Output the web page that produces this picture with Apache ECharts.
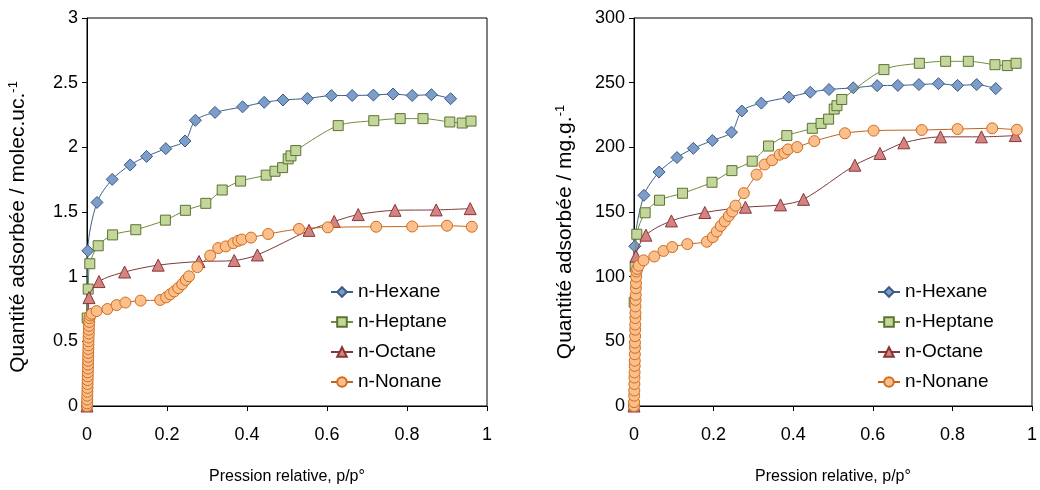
<!DOCTYPE html>
<html>
<head>
<meta charset="utf-8">
<script src="https://cdn.jsdelivr.net/npm/echarts@6/dist/echarts.min.js"></script>
<style>
html,body{margin:0;padding:0;background:#fff;}
#chart{width:1040px;height:490px;}
</style>
</head>
<body>
<div id="chart"></div>
<script>
// ---- data (x = p/p°) ----
const seriesNames = ['n-Hexane', 'n-Heptane', 'n-Octane', 'n-Nonane'];
const xTicks = ['0', '0.2', '0.4', '0.6', '0.8', '1'];

const hexX = [0, 0.002, 0.025, 0.063, 0.108, 0.149, 0.197, 0.245, 0.271, 0.32, 0.389, 0.443, 0.49, 0.551, 0.611, 0.663, 0.716, 0.765, 0.813, 0.861, 0.909];
const hexLeft = [0, 1.20, 1.574, 1.752, 1.864, 1.93, 1.99, 2.049, 2.209, 2.27, 2.313, 2.348, 2.366, 2.378, 2.40, 2.401, 2.404, 2.412, 2.401, 2.407, 2.376];
const hexRight = [0, 123.5, 162.9, 180.9, 192.1, 199.2, 205.3, 211.7, 228.1, 234.2, 238.8, 242.6, 244.7, 246, 247.7, 247.9, 248.5, 249.2, 247.9, 248.5, 245.4];

const hepX = [0, 0.0005, 0.003, 0.007, 0.028, 0.064, 0.122, 0.196, 0.246, 0.297, 0.338, 0.384, 0.448, 0.47, 0.489, 0.503, 0.51, 0.522, 0.628, 0.717, 0.783, 0.84, 0.907, 0.938, 0.96];
const hepLeft = [0, 0.68, 0.904, 1.10, 1.239, 1.323, 1.363, 1.437, 1.513, 1.567, 1.67, 1.739, 1.785, 1.815, 1.843, 1.911, 1.934, 1.975, 2.168, 2.206, 2.222, 2.222, 2.196, 2.188, 2.203];
const hepRight = [0, 80.3, 107.7, 132.8, 149.4, 159.1, 164.5, 173, 182, 189.3, 201, 209.1, 214.7, 218.5, 221.8, 229.6, 232.2, 237, 260.1, 265, 266.5, 266.5, 263.9, 263.2, 265];

const octX = [0, 0.005, 0.03, 0.094, 0.178, 0.28, 0.368, 0.426, 0.555, 0.618, 0.678, 0.77, 0.873, 0.958];
const octLeft = [0, 0.838, 0.962, 1.036, 1.089, 1.117, 1.125, 1.168, 1.358, 1.427, 1.48, 1.513, 1.516, 1.526];
const octRight = [0, 115.9, 132.1, 143.1, 149.6, 153.7, 155.5, 159.8, 186.2, 195.3, 203.5, 208.1, 208.1, 209.1];

const nonX = [0, 0.0003, 0.0004, 0.0007, 0.001, 0.0011, 0.0014, 0.0017, 0.0019, 0.0021, 0.0024, 0.0025, 0.0028, 0.003, 0.0031, 0.0034, 0.0036, 0.0037, 0.004, 0.0043, 0.0047, 0.005, 0.0056, 0.0062, 0.008, 0.012,
  0.024, 0.051, 0.074, 0.096, 0.134, 0.183, 0.198, 0.208, 0.218, 0.228, 0.238, 0.247, 0.255, 0.276, 0.308, 0.328, 0.347, 0.366, 0.378, 0.387, 0.41, 0.453, 0.53, 0.602, 0.723, 0.813, 0.9, 0.962];
const nonLeft = [0, 0.02, 0.05, 0.08, 0.11, 0.14, 0.17, 0.2, 0.23, 0.26, 0.29, 0.32, 0.35, 0.38, 0.41, 0.44, 0.47, 0.5, 0.53, 0.56, 0.59, 0.62, 0.65, 0.68, 0.70, 0.713,
  0.734, 0.75, 0.78, 0.80, 0.815, 0.82, 0.84, 0.863, 0.886, 0.912, 0.942, 0.975, 1.003, 1.074, 1.163, 1.221, 1.234, 1.259, 1.277, 1.287, 1.302, 1.33, 1.369, 1.381, 1.386, 1.388, 1.394, 1.386];
const nonRight = [0, 3, 8, 12, 17, 22, 26, 31, 35, 40, 45, 49, 54, 59, 63, 68, 72, 77, 82, 86, 91, 95, 100, 104, 106, 108.5,
  112.6, 115.6, 119.9, 122.9, 125.2, 127, 130.6, 134.9, 139.2, 142.8, 146.9, 150.4, 154.9, 164.6, 178.9, 186.7, 190, 194.3, 195.6, 198.4, 200.2, 204.8, 210.9, 212.9, 213.4, 214.1, 214.7, 213.6];

const leftYTicks = ['0', '0.5', '1', '1.5', '2', '2.5', '3'];
const rightYTicks = ['0', '50', '100', '150', '200', '250', '300'];

// ---- styles ----
const FONT = 'Liberation Sans, Arial, sans-serif';
const styles = [
  { symbol: 'diamond', size: 12, fill: '#7c9dc9', stroke: '#3b5a84', line: '#3f5f8c' },
  { symbol: 'rect', size: 10, fill: '#c3d69b', stroke: '#5d7330', line: '#718c3c' },
  { symbol: 'triangle', size: 12, fill: '#d48383', stroke: '#8a3535', line: '#7d3a3a' },
  { symbol: 'circle', size: 11, fill: '#fbbf8c', stroke: '#cf6d1f', line: '#c0631a' }
];

function zip(xs, ys) { return xs.map((x, i) => [x, ys[i]]); }

const leftSets = [zip(hexX, hexLeft), zip(hepX, hepLeft), zip(octX, octLeft), zip(nonX, nonLeft)];
const rightSets = [zip(hexX, hexRight), zip(hepX, hepRight), zip(octX, octRight), zip(nonX, nonRight)];

function mkSeries(sets, idx) {
  return sets.map((d, i) => ({
    name: seriesNames[i],
    type: 'line',
    xAxisIndex: idx,
    yAxisIndex: idx,
    data: d,
    smooth: 0.3,
    symbol: styles[i].symbol,
    symbolSize: styles[i].size,
    showAllSymbol: true,
    lineStyle: { color: styles[i].line, width: 1 },
    itemStyle: { color: styles[i].fill, borderColor: styles[i].stroke, borderWidth: 1 },
    z: 2 + i,
    animation: false
  }));
}

function mkX(idx) {
  return {
    type: 'value', gridIndex: idx, min: 0, max: 1, interval: 0.2,
    name: 'Pression relative, p/p°', nameLocation: 'middle', nameGap: 63,
    nameTextStyle: { fontFamily: FONT, fontSize: 16, color: '#000' },
    axisLine: { show: true, lineStyle: { color: '#000', width: 1 } },
    axisTick: { show: true, length: 5, lineStyle: { color: '#000' } },
    axisLabel: { fontFamily: FONT, fontSize: 18, color: '#000', margin: 20,
      formatter: v => xTicks[Math.round(v / 0.2)] },
    splitLine: { show: false }
  };
}

function mkY(idx, max, interval, ticks, name, shift) {
  return {
    type: 'value', gridIndex: idx, min: 0, max: max, interval: interval,
    name: name, nameLocation: 'middle', nameGap: 58,
    nameTextStyle: { fontFamily: FONT, fontSize: 21, color: '#000', padding: [0, shift, 0, 0],
      rich: { sup: { fontFamily: FONT, fontSize: 13, color: '#000', verticalAlign: 'top', lineHeight: 22 } } },
    axisLine: { show: true, lineStyle: { color: '#000', width: 1 } },
    axisTick: { show: true, length: 5, lineStyle: { color: '#000' } },
    axisLabel: { fontFamily: FONT, fontSize: 18, color: '#000', margin: 9,
      formatter: v => ticks[Math.round(v / interval)] },
    splitLine: { show: false }
  };
}

function mkLegend(left) {
  return {
    orient: 'vertical', left: left, top: 282, padding: 0,
    data: seriesNames,
    itemWidth: 22, itemHeight: 12, itemGap: 10, itemGap: 10,
    textStyle: { fontFamily: FONT, fontSize: 19, color: '#000', lineHeight: 20 },
    selectedMode: false
  };
}

const chart = echarts.init(document.getElementById('chart'), null, { renderer: 'canvas' });
chart.setOption({
  animation: false,
  backgroundColor: '#fff',
  grid: [
    { left: 87, top: 18, width: 400, height: 394, show: true, borderColor: '#000', borderWidth: 1 },
    { left: 634, top: 18, width: 399, height: 394, show: true, borderColor: '#000', borderWidth: 1 }
  ],
  xAxis: [mkX(0), mkX(1)],
  yAxis: [
    mkY(0, 3, 0.5, leftYTicks, 'Quantité adsorbée / molec.uc.{sup|-1}', 30),
    mkY(1, 300, 50, rightYTicks, 'Quantité adsorbée / mg.g.{sup|-1}', 40)
  ],
  legend: [mkLegend(330), mkLegend(877)],
  series: mkSeries(leftSets, 0).concat(mkSeries(rightSets, 1))
});
</script>
</body>
</html>
